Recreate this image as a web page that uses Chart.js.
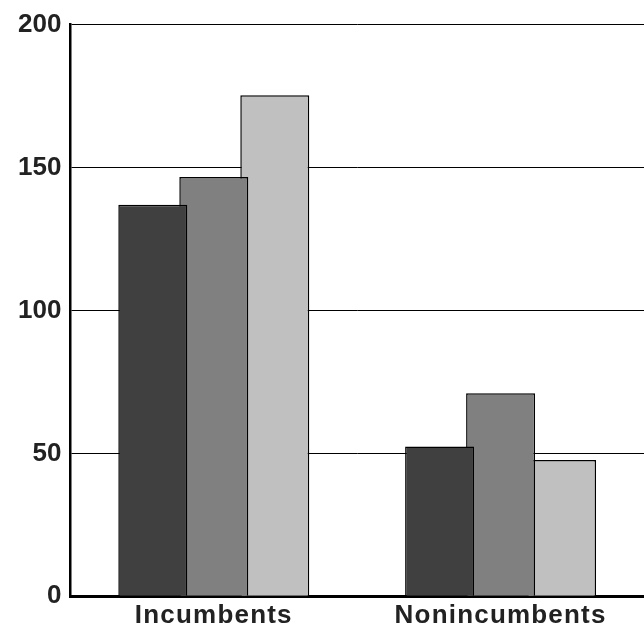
<!DOCTYPE html>
<html>
<head>
<meta charset="utf-8">
<script src="https://cdn.jsdelivr.net/npm/chart.js@4/dist/chart.umd.min.js"></script>
<style>
  html, body { margin: 0; padding: 0; background: #fff; }
  #wrap { width: 644px; height: 631px; }
</style>
</head>
<body>
<div id="wrap"><canvas id="chart" width="644" height="631"></canvas></div>
<script>
// categories and series
const categories = ["Incumbents", "Nonincumbents"];
const seriesDark = [137, 52.4];
const seriesMid = [146.7, 71];
const seriesLight = [175.3, 47.7];
const yTicks = [0, 50, 100, 150, 200];

const barColors = ["#404040", "#808080", "#c0c0c0"];

/**
 * build one bar dataset
 */
function makeDataset(label, data, color) {
  return {
    label: label,
    data: data,
    backgroundColor: color,
    borderColor: "#000",
    borderWidth: 1.5,
    borderSkipped: "bottom",
    barPercentage: 1.131,
    categoryPercentage: 0.638
  };
}

// the category labels in the reference run a bit wider than Liberation Sans,
// so space out only the x axis labels
const xLabelSpacingPlugin = {
  id: "xLabelSpacing",
  afterLayout(chart) {
    const xScale = chart.scales.x;
    if (!xScale || xScale._spaced) return;
    const origDraw = xScale.drawLabels;
    xScale.drawLabels = function (area) {
      const c = this.ctx;
      const prev = c.letterSpacing;
      c.letterSpacing = "1.2px";
      origDraw.call(this, area);
      c.letterSpacing = prev || "0px";
    };
    xScale._spaced = true;
  }
};

function runChart() {
  var ctx = document.getElementById("chart");
  const font = { family: "'Liberation Sans', Arial, sans-serif", size: 26, weight: "bold" };

  const data = {
    labels: categories,
    datasets: [
      makeDataset("dark", seriesDark, barColors[0]),
      makeDataset("mid", seriesMid, barColors[1]),
      makeDataset("light", seriesLight, barColors[2])
    ]
  };

  const options = {
    responsive: false,
    animation: false,
    layout: { padding: { left: 9, top: 19.5, right: 0, bottom: -4.5 } },
    plugins: {
      legend: { display: false },
      tooltip: { enabled: false }
    },
    scales: {
      x: {
        grid: { display: false, drawTicks: false },
        border: { display: true, color: "#000", width: 3 },
        ticks: { color: "#222", font: font, padding: 4, maxRotation: 0 }
      },
      y: {
        min: yTicks[0],
        max: yTicks[yTicks.length - 1],
        afterBuildTicks: function (scale) {
          scale.ticks = yTicks.map(function (v) { return { value: v }; });
        },
        grid: { color: "#000", lineWidth: 1, drawTicks: false },
        border: { display: true, color: "#000", width: 2.5 },
        ticks: { color: "#222", font: font, padding: 9 }
      }
    }
  };

  new Chart(ctx, { type: "bar", data: data, options: options, plugins: [xLabelSpacingPlugin] });
}

runChart();
</script>
</body>
</html>
